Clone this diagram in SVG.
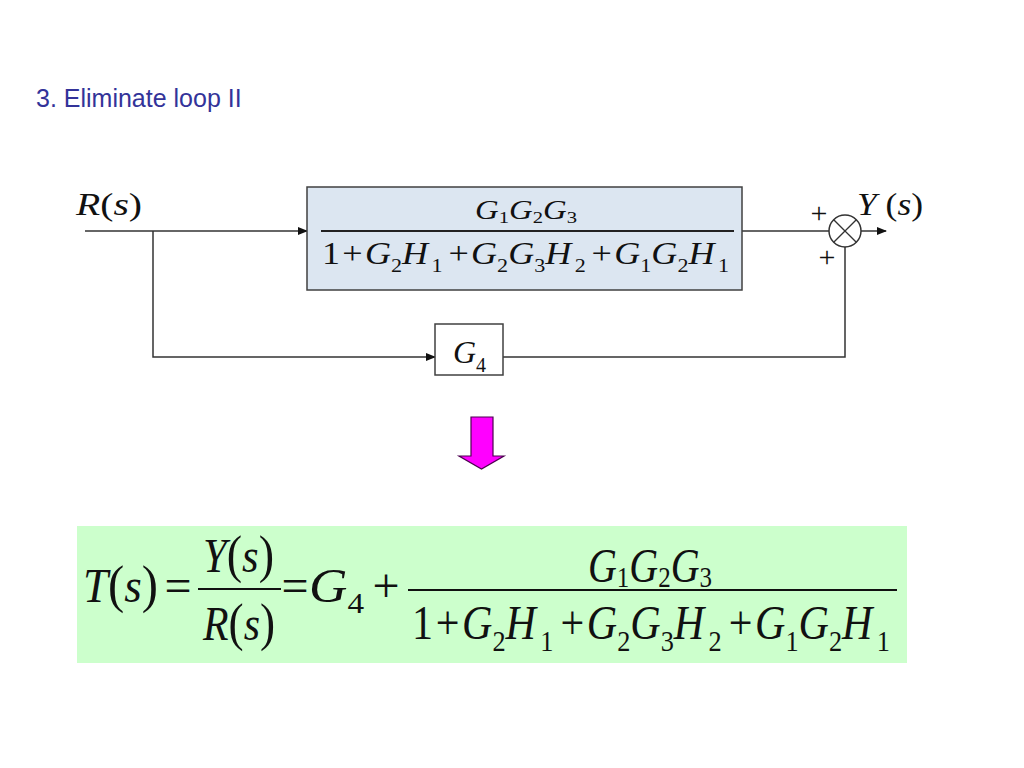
<svg xmlns="http://www.w3.org/2000/svg" width="1024" height="768" viewBox="0 0 1024 768">
<defs>
<style>
.ln{fill:none;stroke:#333;stroke-width:1.5}
.m{font-family:"Liberation Serif","Times New Roman",serif;fill:#111}
.i{font-style:italic}
.title{font-family:"Liberation Sans",Arial,sans-serif;font-size:25px;fill:#333399}
</style>
<marker id="ah" markerWidth="10" markerHeight="8" refX="9" refY="4" orient="auto" markerUnits="userSpaceOnUse">
<path d="M0,0 L10,4 L0,8 Z" fill="#111"/>
</marker>
</defs>
<rect width="1024" height="768" fill="#fff"/>
<text class="title" x="36" y="107">3. Eliminate loop II</text>

<g id="connectors">
<line class="ln" x1="85" y1="231" x2="307" y2="231" marker-end="url(#ah)"/>
<polyline class="ln" points="153,231 153,357 435,357" marker-end="url(#ah)"/>
<line class="ln" x1="742" y1="231" x2="829" y2="231"/>
<polyline class="ln" points="503,357 845,357 845,247"/>
<line class="ln" x1="861" y1="231" x2="886" y2="231" marker-end="url(#ah)"/>
</g>

<g id="input-label">
<text class="m" x="76" y="215" font-size="32" textLength="66" lengthAdjust="spacingAndGlyphs"><tspan class="i">R</tspan>(<tspan class="i">s</tspan>)</text>
</g>

<g id="forward-block">
<rect x="307" y="187" width="435" height="103" fill="#dce6f1" stroke="#404040" stroke-width="1.5"/>
<text class="m" x="475" y="219" font-size="27" textLength="102" lengthAdjust="spacingAndGlyphs"><tspan class="i">G</tspan><tspan font-size="17" dy="4">1</tspan><tspan class="i" dy="-4">G</tspan><tspan font-size="17" dy="4">2</tspan><tspan class="i" dy="-4">G</tspan><tspan font-size="17" dy="4">3</tspan></text>
<line x1="321" y1="231" x2="734" y2="231" stroke="#222" stroke-width="1.8"/>
<text class="m" x="322" y="264" font-size="31" textLength="407" lengthAdjust="spacingAndGlyphs">1<tspan dx="2">+</tspan><tspan class="i" dx="2">G</tspan><tspan font-size="19" dy="8">2</tspan><tspan class="i" dy="-8">H</tspan><tspan font-size="19" dy="8" dx="3">1</tspan><tspan dy="-8" dx="5">+</tspan><tspan class="i" dx="2">G</tspan><tspan font-size="19" dy="8">2</tspan><tspan class="i" dy="-8">G</tspan><tspan font-size="19" dy="8">3</tspan><tspan class="i" dy="-8">H</tspan><tspan font-size="19" dy="8" dx="3">2</tspan><tspan dy="-8" dx="5">+</tspan><tspan class="i" dx="2">G</tspan><tspan font-size="19" dy="8">1</tspan><tspan class="i" dy="-8">G</tspan><tspan font-size="19" dy="8">2</tspan><tspan class="i" dy="-8">H</tspan><tspan font-size="19" dy="8" dx="3">1</tspan></text>
</g>

<g id="sum-junction">
<circle cx="845" cy="231" r="16" fill="#fff" stroke="#333" stroke-width="1.5"/>
<line x1="833.7" y1="219.7" x2="856.3" y2="242.3" stroke="#333" stroke-width="1.3"/>
<line x1="856.3" y1="219.7" x2="833.7" y2="242.3" stroke="#333" stroke-width="1.3"/>
<text class="m" x="819" y="223" font-size="30" text-anchor="middle" fill="#333">+</text>
<text class="m" x="827" y="267" font-size="30" text-anchor="middle" fill="#333">+</text>
</g>

<g id="output-label">
<text class="m" x="857" y="215" font-size="32" textLength="66" lengthAdjust="spacingAndGlyphs"><tspan class="i">Y</tspan> (<tspan class="i">s</tspan>)</text>
</g>

<g id="g4-block">
<rect x="435" y="324" width="68" height="51" fill="#fff" stroke="#404040" stroke-width="1.5"/>
<text class="m" x="453" y="363" font-size="32"><tspan class="i">G</tspan><tspan font-size="20" dy="9">4</tspan></text>
</g>

<g id="down-arrow">
<polygon points="471,417 493,417 493,456 504,456 481.5,469 459,456 471,456" fill="#ff00ff" stroke="#4d0050" stroke-width="1.2"/>
</g>

<g id="result">
<rect x="77" y="526" width="830" height="137" fill="#ccffcc"/>
<text class="m" x="83" y="602" font-size="48" textLength="75" lengthAdjust="spacingAndGlyphs"><tspan class="i">T</tspan><tspan font-size="52">(</tspan><tspan class="i">s</tspan><tspan font-size="52">)</tspan></text>
<text class="m" x="178" y="602" font-size="48" text-anchor="middle">=</text>
<text class="m" x="203" y="572" font-size="48" textLength="71" lengthAdjust="spacingAndGlyphs"><tspan class="i">Y</tspan><tspan font-size="52">(</tspan><tspan class="i">s</tspan><tspan font-size="52">)</tspan></text>
<line x1="198" y1="589" x2="281" y2="589" stroke="#111" stroke-width="2"/>
<text class="m" x="203" y="640" font-size="48" textLength="72" lengthAdjust="spacingAndGlyphs"><tspan class="i">R</tspan><tspan font-size="52">(</tspan><tspan class="i">s</tspan><tspan font-size="52">)</tspan></text>
<text class="m" x="295" y="602" font-size="48" text-anchor="middle">=</text>
<text class="m" x="309" y="602" font-size="48" textLength="55" lengthAdjust="spacingAndGlyphs"><tspan class="i">G</tspan><tspan font-size="30" dy="11">4</tspan></text>
<text class="m" x="386" y="602" font-size="48" text-anchor="middle">+</text>
<line x1="408" y1="590" x2="897" y2="590" stroke="#111" stroke-width="2"/>
<text class="m" x="588" y="582" font-size="48" textLength="124" lengthAdjust="spacingAndGlyphs"><tspan class="i">G</tspan><tspan font-size="30" dy="5">1</tspan><tspan class="i" dy="-5">G</tspan><tspan font-size="30" dy="5">2</tspan><tspan class="i" dy="-5">G</tspan><tspan font-size="30" dy="5">3</tspan></text>
<text class="m" x="412" y="639" font-size="48" textLength="478" lengthAdjust="spacingAndGlyphs">1<tspan dx="3">+</tspan><tspan class="i" dx="3">G</tspan><tspan font-size="30" dy="12">2</tspan><tspan class="i" dy="-12">H</tspan><tspan font-size="30" dy="12" dx="5">1</tspan><tspan dy="-12" dx="8">+</tspan><tspan class="i" dx="3">G</tspan><tspan font-size="30" dy="12">2</tspan><tspan class="i" dy="-12">G</tspan><tspan font-size="30" dy="12">3</tspan><tspan class="i" dy="-12">H</tspan><tspan font-size="30" dy="12" dx="5">2</tspan><tspan dy="-12" dx="8">+</tspan><tspan class="i" dx="3">G</tspan><tspan font-size="30" dy="12">1</tspan><tspan class="i" dy="-12">G</tspan><tspan font-size="30" dy="12">2</tspan><tspan class="i" dy="-12">H</tspan><tspan font-size="30" dy="12" dx="5">1</tspan></text>
</g>
</svg>
